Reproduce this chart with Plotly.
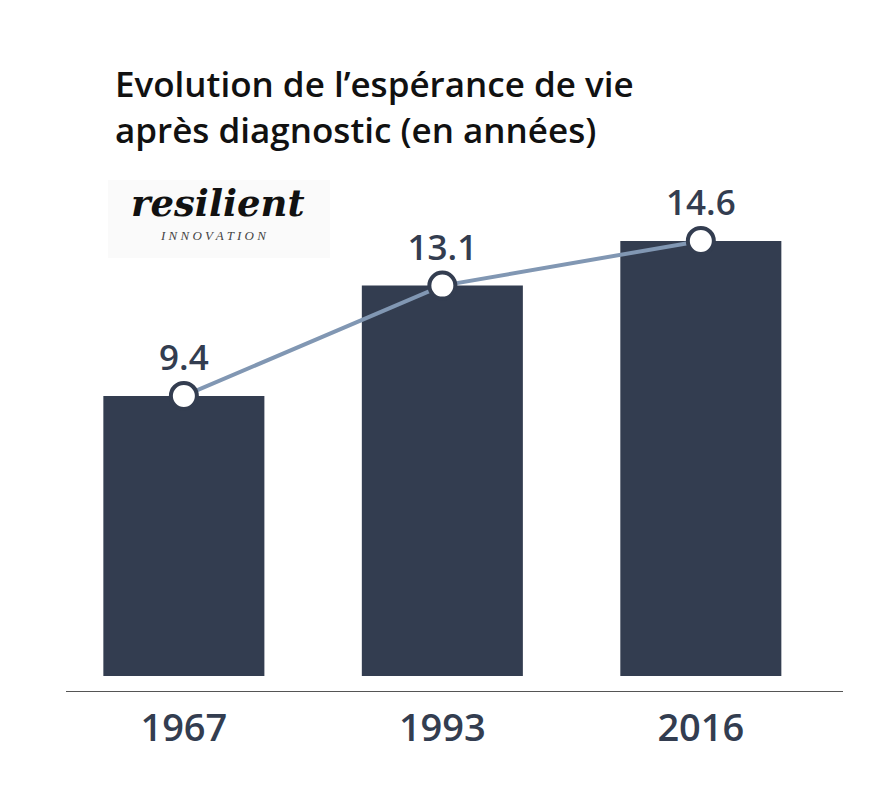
import plotly.graph_objects as go

years = ["1967", "1993", "2016"]
values = [9.4, 13.1, 14.6]
value_labels = ["9.4", "13.1", "14.6"]

positions = list(range(len(years)))
dark = "#333d50"

# page has ~8px offset, so margins are set in picture pixels minus 8
L, T = 58, 142
W_PLOT, H_PLOT = 777, 541


def px(x):
    return (x - 8 - L) / W_PLOT


def py(y):
    return (T + H_PLOT - (y - 8)) / H_PLOT


fig = go.Figure()
fig.add_trace(go.Bar(
    x=positions, y=values, width=0.623,
    marker=dict(color=dark, line=dict(width=0)),
    hoverinfo="skip",
))
fig.add_trace(go.Scatter(
    x=positions, y=values, mode="lines+markers+text",
    line=dict(color="#8197b3", width=4),
    marker=dict(size=26, color="white", line=dict(color=dark, width=4)),
    text=value_labels, textposition="top center",
    textfont=dict(size=35, color=dark, family="Open Sans", weight=600),
    cliponaxis=False,
))

fig.update_layout(
    width=896, height=805,
    margin=dict(l=L, r=896 - L - W_PLOT, t=T, b=805 - T - H_PLOT),
    plot_bgcolor="white", paper_bgcolor="white",
    showlegend=False,
    xaxis=dict(range=[-0.456, 2.55], tickvals=positions, ticktext=years,
               tickfont=dict(size=38, color=dark, family="Open Sans", weight=600),
               showgrid=False, zeroline=False, showline=True,
               linecolor="#555555", linewidth=1, ticks="", ticklabelstandoff=3),
    yaxis=dict(range=[-0.5, 17.65], visible=False),
)

fig.add_annotation(
    xref="paper", yref="paper", x=px(113), y=py(58),
    xanchor="left", yanchor="top", align="left", showarrow=False,
    text="Evolution de l’espérance de vie<br>après diagnostic (en années)",
    font=dict(size=35, color="#111111", family="Open Sans", weight=600),
)

# logo box
fig.add_shape(type="rect", xref="paper", yref="paper",
              x0=px(108), x1=px(330), y0=py(258), y1=py(180),
              fillcolor="#fafafa", line=dict(width=0), layer="below")
fig.add_annotation(
    xref="paper", yref="paper", x=px(218), y=py(203),
    xanchor="center", yanchor="middle",
    showarrow=False, text="<b><i>resilient</i></b>",
    font=dict(size=37, color="#111111", family="DejaVu Serif"),
)
fig.add_annotation(
    xref="paper", yref="paper", x=px(213), y=py(235),
    xanchor="center", yanchor="middle",
    showarrow=False, text="<i>I N N O V A T I O N</i>",
    font=dict(size=13, color="#444444", family="Liberation Serif"),
)

fig.write_html("out.html")
